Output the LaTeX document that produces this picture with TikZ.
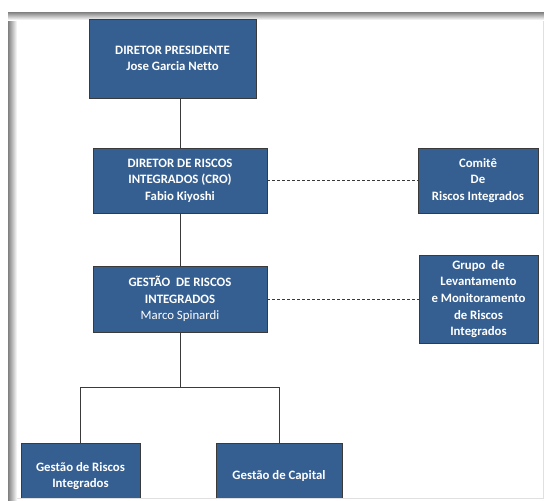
\documentclass[tikz,border=0pt]{standalone}
\usepackage{fontspec}
\setmainfont{Carlito}[Ligatures=NoCommon]
\definecolor{caixaazul}{HTML}{365F91}
\definecolor{linhacinza}{HTML}{3A3A3A}
\begin{document}
\begin{tikzpicture}[x=1pt, y=1pt,
	caixa/.style={draw=linhacinza, line width=0.9pt, fill=caixaazul, text=white,
		font=\fontsize{12.8}{16.6}\selectfont\bfseries, align=center,
		inner sep=0pt, anchor=center},
	liga/.style={draw=linhacinza, line width=0.9pt},
	tracejado/.style={liga, dash pattern=on 3pt off 2pt}]
	\useasboundingbox (0,0) rectangle (544,-501);
	
	\draw[black!12] (8,-12) rectangle (543,-498);
	\shade[left color=black!50, right color=white] (8,-12) rectangle (17,-501);
	\shade[top color=black!50, bottom color=white] (8,-12) rectangle (544,-20);
	
	\begin{scope}
	\clip (8,-12) rectangle (543,-497);
	\node[caixa, minimum width=167, minimum height=79] (presidente) at (172.5,-58.5)
		{DIRETOR PRESIDENTE\\Jose Garcia Netto};
	\node[caixa, minimum width=174, minimum height=65] (cro) at (180,-180.5)
		{DIRETOR DE RISCOS\\INTEGRADOS (CRO)\\Fabio Kiyoshi};
	\node[caixa, minimum width=120, minimum height=65] (comite) at (478,-180.5)
		{Comitê\\De\\Riscos Integrados};
	\node[caixa, minimum width=174, minimum height=66] (gestao) at (180,-299)
		{GESTÃO\ \ DE RISCOS\\INTEGRADOS\\\mdseries Marco Spinardi};
	\node[caixa, minimum width=119, minimum height=88] (grupo) at (478.5,-299)
		{Grupo\ \ de\\Levantamento\\e Monitoramento\\de Riscos\\Integrados};
	\node[caixa, minimum width=119, minimum height=66] (gestaoriscos) at (80.5,-476)
		{Gestão de Riscos\\Integrados};
	\node[caixa, minimum width=126, minimum height=66] (capital) at (279,-476)
		{Gestão de Capital};
	\end{scope}
	
	\coordinate (ramo) at (gestao.south |- 0,-387.5);
	
	\draw[liga] (cro.north |- presidente.south) -- (cro.north);
	\draw[liga] (cro.south) -- (gestao.north);
	\draw[liga] (gestao.south) -- (ramo);
	\draw[liga] (gestaoriscos.north) |- (ramo) -| (capital.north);
	
	\draw[tracejado] (cro.east) -- (comite.west);
	\draw[tracejado] (gestao.east) -- (grupo.west);
	
\end{tikzpicture}
\end{document}
